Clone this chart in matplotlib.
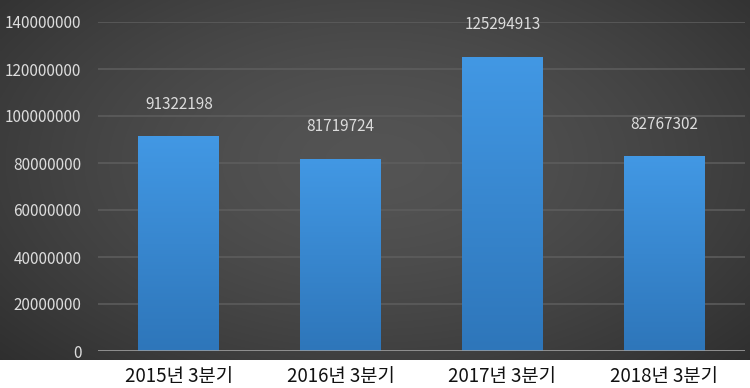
import numpy as np
import matplotlib
matplotlib.use('Agg')
import matplotlib.pyplot as plt

quarters = ['2015년 3분기', '2016년 3분기', '2017년 3분기', '2018년 3분기']
values = [91322198, 81719724, 125294913, 82767302]
yticks = [0, 20000000, 40000000, 60000000, 80000000, 100000000, 120000000, 140000000]

plt.rcParams['font.family'] = ['Noto Sans CJK KR', 'DejaVu Sans']

W, H = 750, 388
fig = plt.figure(figsize=(W / 100, H / 100), dpi=100)
fig.patch.set_facecolor('white')

# dark radial background panel
bg = fig.add_axes([0, 28 / H, 1, 360 / H])
yy, xx = np.mgrid[0:1:200j, 0:1:400j]
r = np.sqrt(((xx - 0.5) / 0.75) ** 2 + ((yy - 0.45) / 0.9) ** 2)
shade = 0.33 - 0.17 * np.clip(r, 0, 1) ** 1.5
bg.imshow(np.dstack([shade] * 3), aspect='auto', extent=[0, 1, 0, 1], interpolation='bilinear')
bg.set_axis_off()

ax = fig.add_axes([98 / W, (H - 351) / H, 647 / W, 329 / H])
ax.set_facecolor('none')
x = np.arange(len(quarters))
bars = ax.bar(x, values, width=0.5, color='#3b8ad6', zorder=3)

# vertical gradient on each bar
grad = np.linspace(0, 1, 100).reshape(-1, 1)
top = np.array([0x42, 0x98, 0xe4]) / 255
bot = np.array([0x2e, 0x76, 0xba]) / 255
img = bot + (top - bot) * grad[..., None]
for b in bars:
    bx, by = b.get_x(), b.get_y()
    im = ax.imshow(img, origin='lower', aspect='auto', zorder=4,
                   extent=[bx, bx + b.get_width(), by, by + b.get_height()])
    im.set_clip_path(b)

for xi, v in zip(x, values):
    ax.annotate(str(v), (xi, v), xytext=(0, 17), textcoords='offset points',
                ha='center', va='bottom', color='#dcdcdc', fontsize=11, zorder=5)

ax.set_xlim(-0.5, 3.5)
ax.set_ylim(0, 140000000)
ax.set_yticks(yticks)
ax.set_yticklabels([str(t) for t in yticks])
ax.set_xticks(x)
ax.set_xticklabels(quarters)
ax.grid(axis='y', color='#5e5e5e', linewidth=1.1, zorder=0)
ax.axhline(0, color='#a0a0a0', linewidth=1.8, zorder=6)
for s in ax.spines.values():
    s.set_visible(False)
ax.tick_params(axis='y', length=0, pad=12, colors='#dcdcdc', labelsize=11)
ax.tick_params(axis='x', length=0, pad=11, colors='#111111', labelsize=13.5)

plt.savefig('out.png', dpi=100)
